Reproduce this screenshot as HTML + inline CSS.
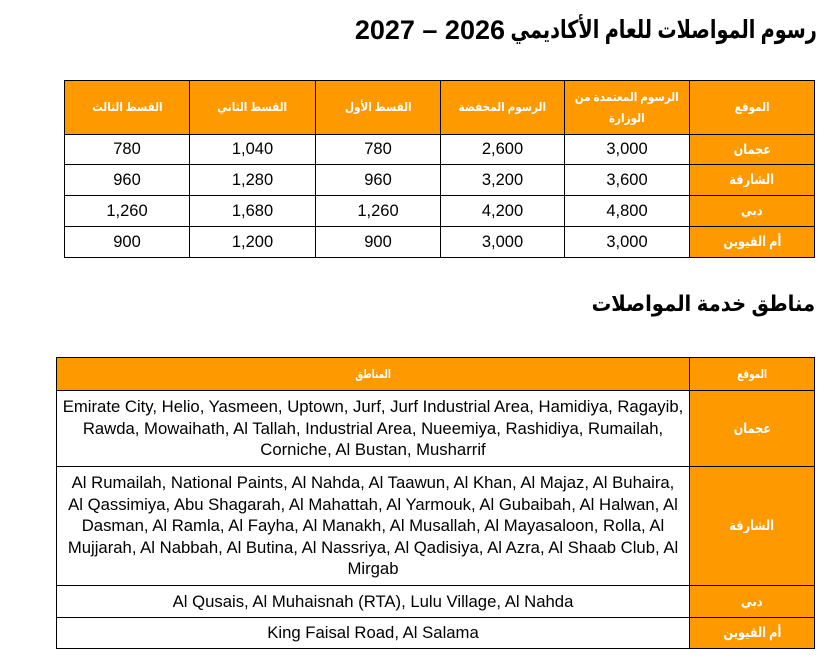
<!DOCTYPE html>
<html>
<head>
<meta charset="utf-8">
<style>
  html,body{margin:0;padding:0;background:#fff;}
  body{width:836px;height:659px;position:relative;overflow:hidden;font-family:"Liberation Sans","DejaVu Sans",sans-serif;color:#000;}
  .c{position:absolute;box-sizing:border-box;border:1px solid #000;display:flex;align-items:center;justify-content:center;text-align:center;}
  .o{background:#fe9900;color:#fff;}
  .h{font-weight:bold;font-size:12px;line-height:21px;}
  .h > span, .h > div{display:inline-block;transform:scaleX(0.87);white-space:nowrap;}
  .h2{font-weight:bold;font-size:12px;line-height:18px;}
  .h2 > span{display:inline-block;transform:scaleX(0.74);white-space:nowrap;}
  .loc{font-weight:bold;font-size:13.5px;}
  .loc > span{display:inline-block;transform:scaleX(0.84);white-space:nowrap;}
  .n{font-size:16.5px;}
  .t{font-size:16.7px;line-height:21.5px;}
  .title{position:absolute;font-weight:bold;white-space:nowrap;}
</style>
</head>
<body>

<div class="title" style="right:331px;top:15px;font-size:27px;line-height:30px;">2027 – 2026</div>
<div class="title" dir="rtl" style="right:19px;top:15px;font-size:25px;line-height:30px;transform:scaleX(0.77);transform-origin:right center;">رسوم المواصلات للعام الأكاديمي</div>

<!-- Table 1 header -->
<div class="c o h" style="left:64px;top:80px;width:126px;height:55px;"><span>القسط الثالث</span></div>
<div class="c o h" style="left:189px;top:80px;width:127px;height:55px;"><span>القسط الثاني</span></div>
<div class="c o h" style="left:315px;top:80px;width:126px;height:55px;"><span>القسط الأول</span></div>
<div class="c o h" style="left:440px;top:80px;width:125px;height:55px;"><span>الرسوم المخفضة</span></div>
<div class="c o h" style="left:564px;top:80px;width:126px;height:55px;"><div dir="rtl">الرسوم المعتمدة من<br>الوزارة</div></div>
<div class="c o h" style="left:689px;top:80px;width:126px;height:55px;"><span>الموقع</span></div>

<!-- Row 1 -->
<div class="c n" style="left:64px;top:134px;width:126px;height:31px;">780</div>
<div class="c n" style="left:189px;top:134px;width:127px;height:31px;">1,040</div>
<div class="c n" style="left:315px;top:134px;width:126px;height:31px;">780</div>
<div class="c n" style="left:440px;top:134px;width:125px;height:31px;">2,600</div>
<div class="c n" style="left:564px;top:134px;width:126px;height:31px;">3,000</div>
<div class="c o loc" style="left:689px;top:134px;width:126px;height:31px;"><span>عجمان</span></div>

<!-- Row 2 -->
<div class="c n" style="left:64px;top:164px;width:126px;height:32px;">960</div>
<div class="c n" style="left:189px;top:164px;width:127px;height:32px;">1,280</div>
<div class="c n" style="left:315px;top:164px;width:126px;height:32px;">960</div>
<div class="c n" style="left:440px;top:164px;width:125px;height:32px;">3,200</div>
<div class="c n" style="left:564px;top:164px;width:126px;height:32px;">3,600</div>
<div class="c o loc" style="left:689px;top:164px;width:126px;height:32px;"><span>الشارقة</span></div>

<!-- Row 3 -->
<div class="c n" style="left:64px;top:195px;width:126px;height:32px;">1,260</div>
<div class="c n" style="left:189px;top:195px;width:127px;height:32px;">1,680</div>
<div class="c n" style="left:315px;top:195px;width:126px;height:32px;">1,260</div>
<div class="c n" style="left:440px;top:195px;width:125px;height:32px;">4,200</div>
<div class="c n" style="left:564px;top:195px;width:126px;height:32px;">4,800</div>
<div class="c o loc" style="left:689px;top:195px;width:126px;height:32px;"><span>دبي</span></div>

<!-- Row 4 -->
<div class="c n" style="left:64px;top:226px;width:126px;height:32px;">900</div>
<div class="c n" style="left:189px;top:226px;width:127px;height:32px;">1,200</div>
<div class="c n" style="left:315px;top:226px;width:126px;height:32px;">900</div>
<div class="c n" style="left:440px;top:226px;width:125px;height:32px;">3,000</div>
<div class="c n" style="left:564px;top:226px;width:126px;height:32px;">3,000</div>
<div class="c o loc" style="left:689px;top:226px;width:126px;height:32px;"><span>أم القيوين</span></div>

<div class="title" dir="rtl" style="right:21px;top:290px;font-size:22px;line-height:28px;transform:scaleX(0.89);transform-origin:right center;">مناطق خدمة المواصلات</div>

<!-- Table 2 -->
<div class="c o h2" style="left:56px;top:357px;width:634px;height:34px;"><span>المناطق</span></div>
<div class="c o h2" style="left:689px;top:357px;width:126px;height:34px;"><span>الموقع</span></div>

<div class="c t" style="left:56px;top:390px;width:634px;height:77px;"><div>Emirate City, Helio, Yasmeen, Uptown, Jurf, Jurf Industrial Area, Hamidiya, Ragayib,<br>Rawda, Mowaihath, Al Tallah, Industrial Area, Nueemiya, Rashidiya, Rumailah,<br>Corniche, Al Bustan, Musharrif</div></div>
<div class="c o loc" style="left:689px;top:390px;width:126px;height:77px;"><span>عجمان</span></div>

<div class="c t" style="left:56px;top:466px;width:634px;height:120px;"><div>Al Rumailah, National Paints, Al Nahda, Al Taawun, Al Khan, Al Majaz, Al Buhaira,<br>Al Qassimiya, Abu Shagarah, Al Mahattah, Al Yarmouk, Al Gubaibah, Al Halwan, Al<br>Dasman, Al Ramla, Al Fayha, Al Manakh, Al Musallah, Al Mayasaloon, Rolla, Al<br>Mujjarah, Al Nabbah, Al Butina, Al Nassriya, Al Qadisiya, Al Azra, Al Shaab Club, Al<br>Mirgab</div></div>
<div class="c o loc" style="left:689px;top:466px;width:126px;height:120px;"><span>الشارقة</span></div>

<div class="c t" style="left:56px;top:585px;width:634px;height:33px;">Al Qusais, Al Muhaisnah (RTA), Lulu Village, Al Nahda</div>
<div class="c o loc" style="left:689px;top:585px;width:126px;height:33px;"><span>دبي</span></div>

<div class="c t" style="left:56px;top:617px;width:634px;height:32px;">King Faisal Road, Al Salama</div>
<div class="c o loc" style="left:689px;top:617px;width:126px;height:32px;"><span>أم القيوين</span></div>

</body>
</html>
